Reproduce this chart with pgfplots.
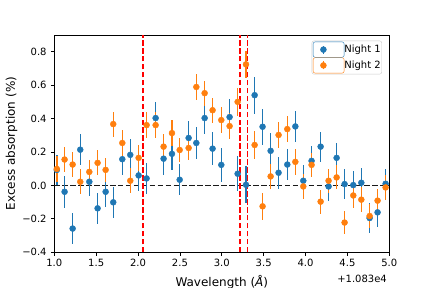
\documentclass[border=0pt]{standalone}
\usepackage{fontspec}
\setmainfont{DejaVu Sans}
\usepackage{pgfplots}
\pgfplotsset{compat=1.18}
\usepackage{pgfplotstable}
\definecolor{c0}{HTML}{1F77B4}
\definecolor{c1}{HTML}{FF7F0E}

\pgfplotstableread{
x y e
1.030 0.093 0.092
1.123 -0.038 0.094
1.219 -0.258 0.091
1.310 0.214 0.091
1.418 0.022 0.087
1.517 -0.137 0.091
1.613 -0.038 0.090
1.704 -0.101 0.092
1.812 0.157 0.094
1.907 0.183 0.092
2.007 0.060 0.093
2.102 0.042 0.095
2.210 0.403 0.096
2.305 0.160 0.095
2.405 0.189 0.095
2.497 0.034 0.093
2.604 0.284 0.099
2.696 0.254 0.096
2.795 0.403 0.097
2.890 0.220 0.099
2.994 0.123 0.100
3.093 0.409 0.106
3.189 0.070 0.106
3.289 0.004 0.110
3.392 0.540 0.110
3.487 0.351 0.107
3.583 0.207 0.108
3.678 0.076 0.095
3.782 0.125 0.094
3.878 0.353 0.094
3.973 0.028 0.097
4.072 0.147 0.091
4.180 0.232 0.090
4.275 -0.006 0.087
4.371 0.165 0.091
4.466 0.008 0.090
4.570 0.002 0.087
4.666 0.016 0.089
4.765 -0.195 0.087
4.860 -0.161 0.089
4.956 0.010 0.089
}\nightone

\pgfplotstableread{
x y e
1.030 0.099 0.078
1.123 0.155 0.077
1.219 0.125 0.077
1.310 0.022 0.074
1.418 0.081 0.073
1.517 0.135 0.074
1.613 0.093 0.074
1.704 0.367 0.075
1.812 0.254 0.077
1.907 0.028 0.075
2.007 0.165 0.076
2.102 0.361 0.076
2.210 0.361 0.076
2.305 0.232 0.076
2.405 0.313 0.076
2.497 0.212 0.074
2.604 0.224 0.074
2.696 0.589 0.078
2.795 0.552 0.074
2.890 0.450 0.076
2.994 0.391 0.079
3.093 0.355 0.079
3.189 0.500 0.082
3.289 0.724 0.082
3.392 0.242 0.084
3.487 -0.125 0.082
3.583 0.054 0.076
3.678 0.302 0.077
3.782 0.337 0.076
3.878 0.141 0.076
3.973 -0.006 0.074
4.072 0.123 0.073
4.180 -0.097 0.071
4.275 0.028 0.072
4.371 0.048 0.072
4.466 -0.222 0.071
4.570 -0.060 0.073
4.666 -0.085 0.074
4.765 -0.183 0.073
4.860 -0.091 0.072
4.956 -0.012 0.074
}\nighttwo

\begin{document}
\begin{tikzpicture}[font=\fontsize{10bp}{12bp}\selectfont]
\useasboundingbox (0,0) rectangle (432bp,288bp);
\begin{axis}[
  name=ax,
  at={(54.3bp,35.7bp)}, anchor=south west,
  scale only axis, width=335bp, height=217.3bp,
  xmin=1, xmax=5, ymin=-0.4, ymax=0.9,
  xtick={1,1.5,2,2.5,3,3.5,4,4.5,5},
  xticklabels={1.0,1.5,2.0,2.5,3.0,3.5,4.0,4.5,5.0},
  ytick={-0.4,-0.2,0,0.2,0.4,0.6,0.8},
  yticklabels={−0.4,−0.2,0.0,0.2,0.4,0.6,0.8},
  tick align=outside, tick pos=left, major tick length=3.5bp,
  every tick/.style={black, line width=0.8bp},
  axis line style={line width=0.8bp},
  xticklabel style={inner sep=0pt, anchor=north, yshift=-3.5bp},
  yticklabel style={inner sep=0pt, anchor=east, xshift=-4bp},
  xlabel={Wavelength (\textit{Å})},
  ylabel={Excess absorption (\%)},
  label style={font=\fontsize{12bp}{14bp}\selectfont},
  xlabel style={at={(axis description cs:0.5,-0.103)}, anchor=north, inner sep=0pt},
  ylabel style={at={(axis description cs:-0.1457,0.5)}, anchor=north, inner sep=0pt},
  legend style={at={(rel axis cs:0.7684,0.9737)}, anchor=north west, draw=black!20,
    rounded corners=2bp, fill=white, inner xsep=1bp, inner ysep=0.8bp,
    row sep=0pt, column sep=0pt, nodes={inner sep=0pt}},
  legend cell align=left,
]
\addplot[black!90, line width=1.5bp, dash pattern=on 5.55bp off 2.4bp, forget plot]
  coordinates {(1,0) (5,0)};
\addplot[red, line width=1.5bp, dash pattern=on 5.55bp off 2.4bp, forget plot]
  coordinates {(2.057,-0.4) (2.057,0.9)};
\addplot[red, line width=1.5bp, dash pattern=on 5.55bp off 2.4bp, forget plot]
  coordinates {(3.217,-0.4) (3.217,0.9)};
\addplot[red, line width=1.5bp, dash pattern=on 5.55bp off 2.4bp, forget plot]
  coordinates {(3.306,-0.4) (3.306,0.9)};
\addplot[c0, only marks, mark=*, mark size=3bp, mark options={draw=c0, fill=c0},
  legend image code/.code={
    \path (0bp,-7.7bp) rectangle (31bp,7.7bp);
    \draw[line width=1.5bp,c0] (10.3bp,-4bp)--(10.3bp,4bp);
    \fill[c0] (10.3bp,0bp) circle (3bp);},
  error bars/.cd, y dir=both, y explicit, error mark=none,
  error bar style={line width=1.5bp, c0}]
  table[x=x, y=y, y error=e] {\nightone};
\addlegendentry{Night 1}
\addplot[c1, only marks, mark=*, mark size=3bp, mark options={draw=c1, fill=c1},
  legend image code/.code={
    \path (0bp,-7.7bp) rectangle (31bp,7.7bp);
    \draw[line width=1.5bp,c1] (10.3bp,-4bp)--(10.3bp,4bp);
    \fill[c1] (10.3bp,0bp) circle (3bp);},
  error bars/.cd, y dir=both, y explicit, error mark=none,
  error bar style={line width=1.5bp, c1}]
  table[x=x, y=y, y error=e] {\nighttwo};
\addlegendentry{Night 2}
\end{axis}
\node[anchor=north east, inner sep=0pt] at ([xshift=-2.3bp, yshift=-22.5bp]ax.south east) {+1.083e4};
\end{tikzpicture}
\end{document}
